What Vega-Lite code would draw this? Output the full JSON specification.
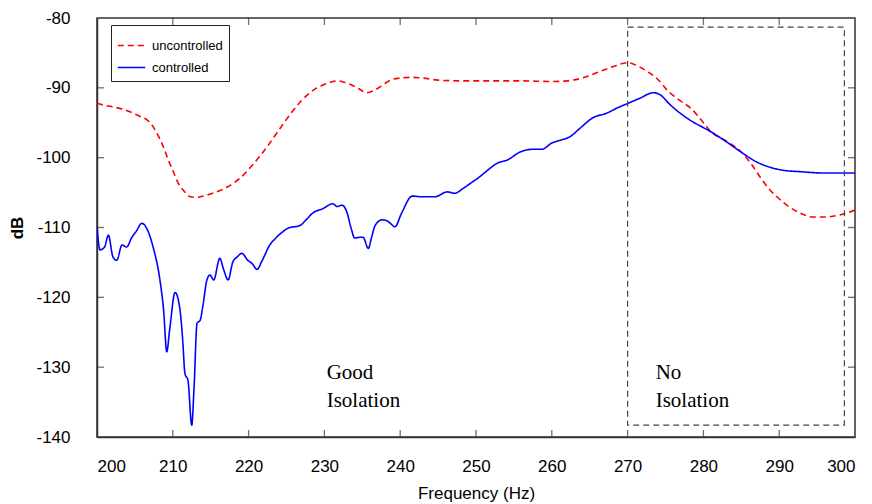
{
  "$schema": "https://vega.github.io/schema/vega-lite/v6.json",
  "width": 758,
  "height": 419,
  "autosize": {"type": "none"},
  "padding": {"left": 97, "top": 18, "right": 17, "bottom": 67},
  "background": "white",
  "config": {
    "view": {"stroke": "#333", "strokeWidth": 1.5},
    "axis": {"grid": false, "ticks": false, "domainColor": "#333", "domainWidth": 1.5, "labelFont": "Liberation Sans", "titleFont": "Liberation Sans", "labelColor": "black", "titleColor": "black"}
  },
  "datasets": {
    "curves": [
      {"f": 200.0, "db": -92.2, "series": "uncontrolled"},
      {"f": 201.0, "db": -92.5, "series": "uncontrolled"},
      {"f": 202.0, "db": -92.7, "series": "uncontrolled"},
      {"f": 203.5, "db": -93.1, "series": "uncontrolled"},
      {"f": 204.7, "db": -93.6, "series": "uncontrolled"},
      {"f": 205.7, "db": -94.1, "series": "uncontrolled"},
      {"f": 206.6, "db": -94.6, "series": "uncontrolled"},
      {"f": 207.3, "db": -95.4, "series": "uncontrolled"},
      {"f": 207.9, "db": -96.5, "series": "uncontrolled"},
      {"f": 208.7, "db": -98.3, "series": "uncontrolled"},
      {"f": 209.4, "db": -100.3, "series": "uncontrolled"},
      {"f": 210.1, "db": -102.1, "series": "uncontrolled"},
      {"f": 210.7, "db": -103.6, "series": "uncontrolled"},
      {"f": 211.5, "db": -104.8, "series": "uncontrolled"},
      {"f": 212.3, "db": -105.6, "series": "uncontrolled"},
      {"f": 213.2, "db": -105.7, "series": "uncontrolled"},
      {"f": 214.0, "db": -105.5, "series": "uncontrolled"},
      {"f": 215.5, "db": -105.0, "series": "uncontrolled"},
      {"f": 217.2, "db": -104.2, "series": "uncontrolled"},
      {"f": 218.9, "db": -102.9, "series": "uncontrolled"},
      {"f": 220.0, "db": -101.7, "series": "uncontrolled"},
      {"f": 221.1, "db": -100.3, "series": "uncontrolled"},
      {"f": 222.4, "db": -98.5, "series": "uncontrolled"},
      {"f": 223.7, "db": -96.5, "series": "uncontrolled"},
      {"f": 224.8, "db": -94.8, "series": "uncontrolled"},
      {"f": 225.9, "db": -93.2, "series": "uncontrolled"},
      {"f": 227.0, "db": -91.8, "series": "uncontrolled"},
      {"f": 228.1, "db": -90.7, "series": "uncontrolled"},
      {"f": 229.0, "db": -90.0, "series": "uncontrolled"},
      {"f": 229.8, "db": -89.6, "series": "uncontrolled"},
      {"f": 230.8, "db": -89.2, "series": "uncontrolled"},
      {"f": 231.7, "db": -89.0, "series": "uncontrolled"},
      {"f": 232.6, "db": -89.2, "series": "uncontrolled"},
      {"f": 233.4, "db": -89.5, "series": "uncontrolled"},
      {"f": 234.5, "db": -90.1, "series": "uncontrolled"},
      {"f": 235.6, "db": -90.7, "series": "uncontrolled"},
      {"f": 236.5, "db": -90.4, "series": "uncontrolled"},
      {"f": 237.3, "db": -89.9, "series": "uncontrolled"},
      {"f": 238.7, "db": -88.9, "series": "uncontrolled"},
      {"f": 240.0, "db": -88.6, "series": "uncontrolled"},
      {"f": 241.5, "db": -88.5, "series": "uncontrolled"},
      {"f": 243.0, "db": -88.6, "series": "uncontrolled"},
      {"f": 245.0, "db": -88.9, "series": "uncontrolled"},
      {"f": 248.0, "db": -89.0, "series": "uncontrolled"},
      {"f": 252.0, "db": -89.0, "series": "uncontrolled"},
      {"f": 256.0, "db": -89.0, "series": "uncontrolled"},
      {"f": 260.0, "db": -89.1, "series": "uncontrolled"},
      {"f": 262.0, "db": -89.0, "series": "uncontrolled"},
      {"f": 264.0, "db": -88.6, "series": "uncontrolled"},
      {"f": 266.0, "db": -87.8, "series": "uncontrolled"},
      {"f": 268.0, "db": -87.0, "series": "uncontrolled"},
      {"f": 270.0, "db": -86.4, "series": "uncontrolled"},
      {"f": 271.0, "db": -86.7, "series": "uncontrolled"},
      {"f": 272.5, "db": -87.6, "series": "uncontrolled"},
      {"f": 274.0, "db": -88.8, "series": "uncontrolled"},
      {"f": 275.2, "db": -90.3, "series": "uncontrolled"},
      {"f": 276.5, "db": -91.5, "series": "uncontrolled"},
      {"f": 278.6, "db": -93.2, "series": "uncontrolled"},
      {"f": 280.0, "db": -95.0, "series": "uncontrolled"},
      {"f": 281.0, "db": -96.3, "series": "uncontrolled"},
      {"f": 283.0, "db": -97.6, "series": "uncontrolled"},
      {"f": 285.1, "db": -99.3, "series": "uncontrolled"},
      {"f": 286.5, "db": -101.2, "series": "uncontrolled"},
      {"f": 287.5, "db": -102.8, "series": "uncontrolled"},
      {"f": 288.6, "db": -104.4, "series": "uncontrolled"},
      {"f": 289.7, "db": -105.6, "series": "uncontrolled"},
      {"f": 291.0, "db": -106.8, "series": "uncontrolled"},
      {"f": 292.5, "db": -107.8, "series": "uncontrolled"},
      {"f": 294.5, "db": -108.5, "series": "uncontrolled"},
      {"f": 296.0, "db": -108.5, "series": "uncontrolled"},
      {"f": 298.0, "db": -108.2, "series": "uncontrolled"},
      {"f": 300.0, "db": -107.5, "series": "uncontrolled"},
      {"f": 200.0, "db": -109.9, "series": "controlled"},
      {"f": 200.4, "db": -113.2, "series": "controlled"},
      {"f": 201.0, "db": -112.8, "series": "controlled"},
      {"f": 201.5, "db": -111.1, "series": "controlled"},
      {"f": 202.1, "db": -114.2, "series": "controlled"},
      {"f": 202.6, "db": -114.7, "series": "controlled"},
      {"f": 203.3, "db": -112.5, "series": "controlled"},
      {"f": 203.9, "db": -112.8, "series": "controlled"},
      {"f": 204.6, "db": -111.4, "series": "controlled"},
      {"f": 205.2, "db": -110.5, "series": "controlled"},
      {"f": 205.9, "db": -109.4, "series": "controlled"},
      {"f": 206.6, "db": -110.2, "series": "controlled"},
      {"f": 207.4, "db": -112.8, "series": "controlled"},
      {"f": 208.3, "db": -117.5, "series": "controlled"},
      {"f": 208.8, "db": -122.0, "series": "controlled"},
      {"f": 209.2, "db": -127.8, "series": "controlled"},
      {"f": 209.6, "db": -124.5, "series": "controlled"},
      {"f": 210.3, "db": -119.3, "series": "controlled"},
      {"f": 210.9, "db": -121.4, "series": "controlled"},
      {"f": 211.3, "db": -126.0, "series": "controlled"},
      {"f": 211.6, "db": -130.9, "series": "controlled"},
      {"f": 212.0, "db": -131.9, "series": "controlled"},
      {"f": 212.5, "db": -138.3, "series": "controlled"},
      {"f": 212.8, "db": -133.0, "series": "controlled"},
      {"f": 213.2, "db": -123.7, "series": "controlled"},
      {"f": 213.6, "db": -123.3, "series": "controlled"},
      {"f": 214.0, "db": -121.0, "series": "controlled"},
      {"f": 214.5, "db": -117.5, "series": "controlled"},
      {"f": 214.9, "db": -116.8, "series": "controlled"},
      {"f": 215.4, "db": -117.5, "series": "controlled"},
      {"f": 216.2, "db": -114.4, "series": "controlled"},
      {"f": 216.7, "db": -116.0, "series": "controlled"},
      {"f": 217.3, "db": -117.5, "series": "controlled"},
      {"f": 217.9, "db": -115.0, "series": "controlled"},
      {"f": 218.5, "db": -114.2, "series": "controlled"},
      {"f": 219.1, "db": -113.7, "series": "controlled"},
      {"f": 219.9, "db": -114.7, "series": "controlled"},
      {"f": 220.5, "db": -115.2, "series": "controlled"},
      {"f": 221.1, "db": -116.0, "series": "controlled"},
      {"f": 221.8, "db": -114.7, "series": "controlled"},
      {"f": 222.8, "db": -112.5, "series": "controlled"},
      {"f": 223.6, "db": -111.5, "series": "controlled"},
      {"f": 224.4, "db": -110.7, "series": "controlled"},
      {"f": 225.2, "db": -110.1, "series": "controlled"},
      {"f": 226.8, "db": -109.7, "series": "controlled"},
      {"f": 227.5, "db": -109.0, "series": "controlled"},
      {"f": 228.5, "db": -107.9, "series": "controlled"},
      {"f": 229.8, "db": -107.3, "series": "controlled"},
      {"f": 231.1, "db": -106.6, "series": "controlled"},
      {"f": 231.7, "db": -107.0, "series": "controlled"},
      {"f": 232.3, "db": -106.8, "series": "controlled"},
      {"f": 233.0, "db": -107.9, "series": "controlled"},
      {"f": 233.5, "db": -110.0, "series": "controlled"},
      {"f": 234.0, "db": -111.5, "series": "controlled"},
      {"f": 234.7, "db": -111.4, "series": "controlled"},
      {"f": 235.1, "db": -111.4, "series": "controlled"},
      {"f": 235.8, "db": -113.0, "series": "controlled"},
      {"f": 236.2, "db": -111.5, "series": "controlled"},
      {"f": 236.7, "db": -109.7, "series": "controlled"},
      {"f": 237.6, "db": -108.9, "series": "controlled"},
      {"f": 238.2, "db": -109.0, "series": "controlled"},
      {"f": 238.7, "db": -109.4, "series": "controlled"},
      {"f": 239.3, "db": -109.9, "series": "controlled"},
      {"f": 240.2, "db": -107.9, "series": "controlled"},
      {"f": 241.6, "db": -105.5, "series": "controlled"},
      {"f": 242.9, "db": -105.6, "series": "controlled"},
      {"f": 244.6, "db": -105.6, "series": "controlled"},
      {"f": 246.2, "db": -104.9, "series": "controlled"},
      {"f": 247.2, "db": -105.1, "series": "controlled"},
      {"f": 248.3, "db": -104.4, "series": "controlled"},
      {"f": 249.5, "db": -103.5, "series": "controlled"},
      {"f": 250.3, "db": -102.9, "series": "controlled"},
      {"f": 251.2, "db": -102.1, "series": "controlled"},
      {"f": 252.8, "db": -100.8, "series": "controlled"},
      {"f": 254.2, "db": -100.3, "series": "controlled"},
      {"f": 255.8, "db": -99.2, "series": "controlled"},
      {"f": 257.5, "db": -98.8, "series": "controlled"},
      {"f": 258.7, "db": -98.8, "series": "controlled"},
      {"f": 260.0, "db": -97.9, "series": "controlled"},
      {"f": 261.1, "db": -97.5, "series": "controlled"},
      {"f": 262.4, "db": -97.0, "series": "controlled"},
      {"f": 263.7, "db": -95.8, "series": "controlled"},
      {"f": 265.4, "db": -94.3, "series": "controlled"},
      {"f": 267.3, "db": -93.6, "series": "controlled"},
      {"f": 268.6, "db": -92.9, "series": "controlled"},
      {"f": 270.1, "db": -92.2, "series": "controlled"},
      {"f": 271.6, "db": -91.5, "series": "controlled"},
      {"f": 273.4, "db": -90.7, "series": "controlled"},
      {"f": 274.3, "db": -91.0, "series": "controlled"},
      {"f": 275.5, "db": -92.3, "series": "controlled"},
      {"f": 276.9, "db": -93.6, "series": "controlled"},
      {"f": 278.5, "db": -94.8, "series": "controlled"},
      {"f": 280.0, "db": -95.7, "series": "controlled"},
      {"f": 281.0, "db": -96.3, "series": "controlled"},
      {"f": 283.0, "db": -97.7, "series": "controlled"},
      {"f": 285.1, "db": -99.3, "series": "controlled"},
      {"f": 287.0, "db": -100.6, "series": "controlled"},
      {"f": 289.2, "db": -101.5, "series": "controlled"},
      {"f": 290.5, "db": -101.8, "series": "controlled"},
      {"f": 292.7, "db": -102.0, "series": "controlled"},
      {"f": 296.0, "db": -102.2, "series": "controlled"},
      {"f": 300.0, "db": -102.2, "series": "controlled"}
    ],
    "box": [{"x1": 270, "x2": 298.6, "y1": -81.3, "y2": -138.3}],
    "notes": [
      {"f": 230.3, "db": -129.2, "label": ["Good", "Isolation"]},
      {"f": 273.7, "db": -129.2, "label": ["No", "Isolation"]}
    ],
    "xticks": [{"v": 210}, {"v": 220}, {"v": 230}, {"v": 240}, {"v": 250}, {"v": 260}, {"v": 270}, {"v": 280}, {"v": 290}],
    "yticks": [{"v": -130}, {"v": -120}, {"v": -110}, {"v": -100}, {"v": -90}]
  },
  "layer": [
    {
      "data": {"name": "curves"},
      "mark": {"type": "line", "strokeWidth": 1.6, "clip": true, "interpolate": "monotone"},
      "encoding": {
        "x": {"field": "f", "type": "quantitative", "scale": {"domain": [200, 300], "nice": false, "zero": false},
          "axis": {"orient": "bottom", "title": "Frequency (Hz)", "titleFontSize": 17, "titleFontWeight": "normal", "titlePadding": 11, "labelFontSize": 17, "labelPadding": 21, "values": [200, 210, 220, 230, 240, 250, 260, 270, 280, 290, 300]}},
        "y": {"field": "db", "type": "quantitative", "scale": {"domain": [-140, -80], "nice": false, "zero": false},
          "axis": {"orient": "left", "title": "dB", "titleFontSize": 17, "titleFontWeight": "bold", "titlePadding": 9, "labelFontSize": 17, "labelPadding": 27, "labelExpr": "'' + datum.value", "values": [-140, -130, -120, -110, -100, -90, -80]}},
        "color": {"field": "series", "type": "nominal", "scale": {"domain": ["uncontrolled", "controlled"], "range": ["#ff0000", "#0000ff"]},
          "legend": {"title": null, "orient": "none", "legendX": 14, "legendY": 7, "strokeColor": "#222", "fillColor": "white", "padding": 6, "labelFont": "Liberation Sans", "labelFontSize": 13, "labelColor": "black", "symbolType": "stroke", "symbolSize": 750, "symbolStrokeWidth": 1.6, "rowPadding": -5, "labelOffset": 6}},
        "strokeDash": {"field": "series", "type": "nominal", "scale": {"domain": ["uncontrolled", "controlled"], "range": [[6, 4], [1, 0]]}, "legend": null},
        "order": {"field": "f", "type": "quantitative"}
      }
    },
    {
      "data": {"name": "box"},
      "mark": {"type": "rect", "fill": "white", "fillOpacity": 0, "stroke": "#444", "strokeWidth": 1.2, "strokeDash": [6, 4]},
      "encoding": {
        "x": {"field": "x1", "type": "quantitative"},
        "x2": {"field": "x2"},
        "y": {"field": "y1", "type": "quantitative"},
        "y2": {"field": "y2"}
      }
    },
    {
      "data": {"name": "xticks"},
      "mark": {"type": "tick", "orient": "vertical", "size": 14, "thickness": 1.3, "color": "#333", "clip": true},
      "encoding": {
        "x": {"field": "v", "type": "quantitative"},
        "y": {"datum": -140, "type": "quantitative"}
      }
    },
    {
      "data": {"name": "xticks"},
      "mark": {"type": "tick", "orient": "vertical", "size": 14, "thickness": 1.3, "color": "#333", "clip": true},
      "encoding": {
        "x": {"field": "v", "type": "quantitative"},
        "y": {"datum": -80, "type": "quantitative"}
      }
    },
    {
      "data": {"name": "yticks"},
      "mark": {"type": "tick", "orient": "horizontal", "size": 14, "thickness": 1.3, "color": "#333", "clip": true},
      "encoding": {
        "y": {"field": "v", "type": "quantitative"},
        "x": {"datum": 200, "type": "quantitative"}
      }
    },
    {
      "data": {"name": "yticks"},
      "mark": {"type": "tick", "orient": "horizontal", "size": 14, "thickness": 1.3, "color": "#333", "clip": true},
      "encoding": {
        "y": {"field": "v", "type": "quantitative"},
        "x": {"datum": 300, "type": "quantitative"}
      }
    },
    {
      "data": {"name": "notes"},
      "mark": {"type": "text", "align": "left", "baseline": "top", "font": "Liberation Serif", "fontSize": 21, "lineHeight": 28, "color": "black"},
      "encoding": {
        "x": {"field": "f", "type": "quantitative"},
        "y": {"field": "db", "type": "quantitative"},
        "text": {"field": "label"}
      }
    }
  ]
}
